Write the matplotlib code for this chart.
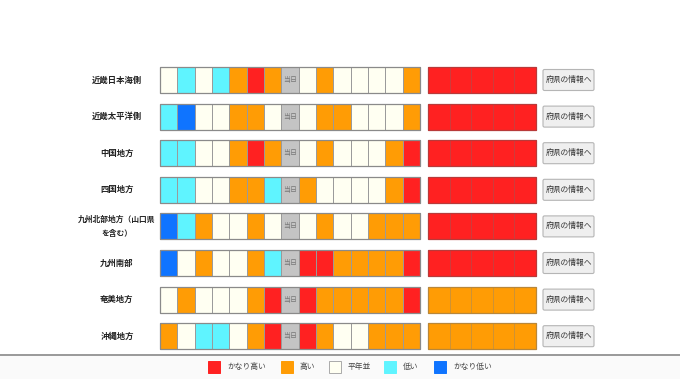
import matplotlib.pyplot as plt
from matplotlib.patches import Rectangle, FancyBboxPatch

plt.rcParams['font.family'] = ['Noto Sans CJK JP', 'DejaVu Sans']

# 地域名
regions = ['近畿日本海側', '近畿太平洋側', '中国地方', '四国地方',
           '九州北部地方（山口県\nを含む）', '九州南部', '奄美地方', '沖縄地方']

# 2: かなり高い, 1: 高い, 0: 平年並, -1: 低い, -2: かなり低い, 9: 当日
daily = [
    [0, -1, 0, -1, 1, 2, 1, 9, 0, 1, 0, 0, 0, 0, 1],
    [-1, -2, 0, 0, 1, 1, 0, 9, 0, 1, 1, 0, 0, 0, 1],
    [-1, -1, 0, 0, 1, 2, 1, 9, 0, 1, 0, 0, 0, 1, 2],
    [-1, -1, 0, 0, 1, 1, -1, 9, 1, 0, 0, 0, 0, 1, 2],
    [-2, -1, 1, 0, 0, 1, 0, 9, 0, 1, 0, 0, 1, 1, 1],
    [-2, 0, 1, 0, 0, 1, -1, 9, 2, 2, 1, 1, 1, 1, 2],
    [0, 1, 0, 0, 0, 1, 2, 9, 2, 1, 1, 1, 1, 1, 2],
    [1, 0, -1, -1, 0, 1, 2, 9, 2, 1, 0, 0, 1, 1, 1],
]
# 2週目（5日分）
weekly = [2, 2, 2, 2, 2, 2, 1, 1]

legend_labels = ['かなり高い', '高い', '平年並', '低い', 'かなり低い']
legend_codes = [2, 1, 0, -1, -2]

colors = {2: '#ff2121', 1: '#ff9c05', 0: '#fffff2', -1: '#5ff4ff',
          -2: '#0f74ff', 9: '#c4c4c4'}
edges = {2: '#b83a3a', 1: '#b8873a', 0: '#999999', -1: '#888888',
         -2: '#555555', 9: '#999999'}

fig = plt.figure(figsize=(6.8, 3.79), dpi=100)
ax = fig.add_axes([0, 0, 1, 1])
ax.set_xlim(0, 680)
ax.set_ylim(379, 0)
ax.axis('off')

y0, dy, h = 67, 36.6, 26
x0, w = 160, 17.33
x1, w2 = 428, 21.6

for i, name in enumerate(regions):
    top = y0 + i * dy
    cy = top + h / 2
    fs = 5.6 if '\n' in name else 6.0
    ax.text(117, cy, name, ha='center', va='center', fontsize=fs,
            fontweight='bold', color='#222222', linespacing=1.7)
    for j, v in enumerate(daily[i]):
        ax.add_patch(Rectangle((x0 + j * w, top), w, h, facecolor=colors[v],
                               edgecolor='#9a9a9a', lw=0.7))
        if v == 9:
            ax.text(x0 + j * w + w / 2, cy, '当日', ha='center', va='center',
                    fontsize=5, color='#777777')
    ax.add_patch(Rectangle((x0, top), 15 * w, h, fill=False,
                           edgecolor='#8a8a8a', lw=0.9))
    v = weekly[i]
    for j in range(5):
        ax.add_patch(Rectangle((x1 + j * w2, top), w2, h, facecolor=colors[v],
                               edgecolor=edges[v], lw=0.4))
    ax.add_patch(Rectangle((x1, top), 5 * w2, h, fill=False,
                           edgecolor=edges[v], lw=0.9))
    ax.add_patch(FancyBboxPatch((543, cy - 10.5), 51, 21,
                                boxstyle='round,pad=0,rounding_size=1.5',
                                facecolor='#efefef', edgecolor='#b5b5b5', lw=0.8))
    ax.text(568.5, cy, '府県の情報へ', ha='center', va='center',
            fontsize=5.6, color='#333333')

# 下部の凡例
ax.add_patch(Rectangle((0, 355), 680, 24, facecolor='#fafafa', edgecolor='none'))
ax.plot([0, 680], [354.5, 354.5], color='#888888', lw=1.2)
leg_x = [208, 281, 329, 384, 434]
for x, lab, c in zip(leg_x, legend_labels, legend_codes):
    ax.add_patch(Rectangle((x, 361), 12, 12, facecolor=colors[c],
                           edgecolor='#aaaaaa' if c == 0 else colors[c], lw=0.7))
    ax.text(x + 19, 367, lab, ha='left', va='center', fontsize=5.6,
            color='#444444')

fig.savefig('out.png', dpi=100)
